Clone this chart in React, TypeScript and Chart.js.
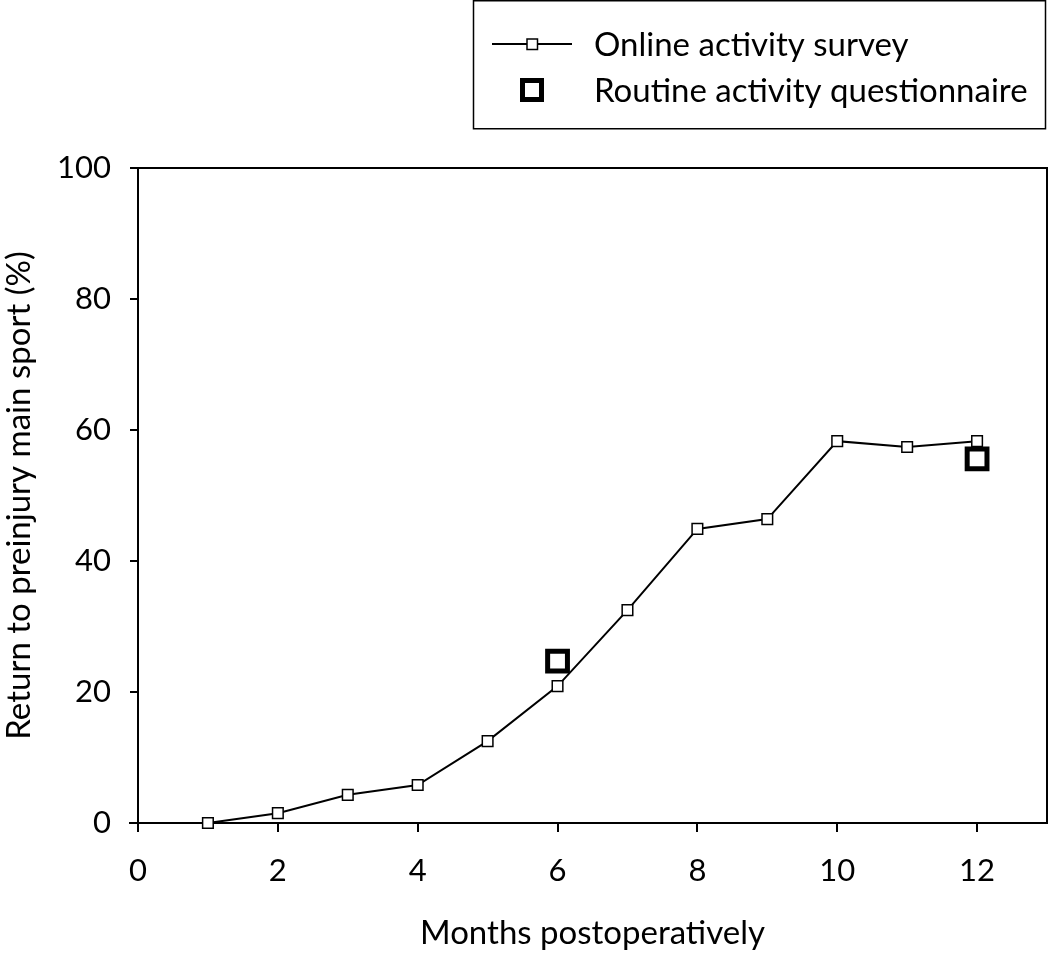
import React, { useEffect, useRef } from "react";
import { Chart, registerables } from "chart.js";

Chart.register(...registerables);

const months = [1, 2, 3, 4, 5, 6, 7, 8, 9, 10, 11, 12];
const onlineSurvey = [0, 1.5, 4.3, 5.8, 12.5, 20.9, 32.5, 44.9, 46.4, 58.3, 57.4, 58.3];
const routineMonths = [6, 12];
const routineQuestionnaire = [24.7, 55.6];
const xTicks = [0, 2, 4, 6, 8, 10, 12];
const yTicks = [0, 20, 40, 60, 80, 100];
const seriesNames = ["Online activity survey", "Routine activity questionnaire"];
const xTitle = "Months postoperatively";
const yTitle = "Return to preinjury main sport (%)";

const FONT = "Lato, 'Open Sans', sans-serif";

const framePlugin = {
  id: "frame",
  beforeDatasetsDraw(chart: any) {
    const { ctx, chartArea } = chart;
    ctx.save();
    ctx.strokeStyle = "#000";
    ctx.lineWidth = 2;
    ctx.beginPath();
    ctx.moveTo(chartArea.left, chartArea.top);
    ctx.lineTo(chartArea.right, chartArea.top);
    ctx.lineTo(chartArea.right, chartArea.bottom);
    ctx.stroke();
    ctx.beginPath();
    ctx.moveTo(chartArea.left - 9, chartArea.bottom);
    ctx.lineTo(chartArea.left, chartArea.bottom);
    ctx.stroke();
    ctx.restore();
  },
  afterDraw(chart: any) {
    const { ctx } = chart;
    ctx.save();
    ctx.strokeStyle = "#000";
    // legend box
    ctx.lineWidth = 1.5;
    ctx.strokeRect(473.5, 0.75, 572, 128);
    // line sample
    ctx.lineWidth = 2;
    ctx.beginPath();
    ctx.moveTo(492, 44);
    ctx.lineTo(572, 44);
    ctx.stroke();
    ctx.fillStyle = "#fff";
    ctx.lineWidth = 1.5;
    ctx.fillRect(527, 39, 10.5, 10.5);
    ctx.strokeRect(527, 39, 10.5, 10.5);
    ctx.lineWidth = 5;
    ctx.strokeRect(522.5, 80.5, 19, 19);
    ctx.fillStyle = "#000";
    ctx.font = `33px ${FONT}`;
    ctx.textBaseline = "middle";
    ctx.textAlign = "left";
    ctx.fillText(seriesNames[0], 594, 45);
    ctx.fillText(seriesNames[1], 594, 91);
    ctx.restore();
  },
};

export default function App() {
  const ref = useRef<HTMLCanvasElement>(null);
  useEffect(() => {
    const chart = new Chart(ref.current!, {
      type: "scatter",
      data: {
        datasets: [
          {
            label: seriesNames[1],
            data: routineMonths.map((m, i) => ({ x: m, y: routineQuestionnaire[i] })),
            showLine: false,
            clip: false,
            pointStyle: "rect",
            pointRadius: 14,
            pointBorderWidth: 5,
            borderColor: "#000",
            backgroundColor: "#fff",
            order: 2,
          },
          {
            label: seriesNames[0],
            data: months.map((m, i) => ({ x: m, y: onlineSurvey[i] })),
            showLine: true,
            clip: false,
            borderColor: "#000",
            borderWidth: 2,
            pointStyle: "rect",
            pointRadius: 7.5,
            pointBorderWidth: 1.5,
            pointBackgroundColor: "#fff",
            pointBorderColor: "#000",
            backgroundColor: "#fff",
            order: 1,
          },
        ],
      },
      options: {
        responsive: false,
        animation: false,
        layout: { autoPadding: false, padding: { left: 0, right: 3, top: 168, bottom: 0 } },
        plugins: { legend: { display: false }, tooltip: { enabled: false } },
        scales: {
          x: {
            type: "linear",
            min: 0,
            max: 13,
            afterBuildTicks: (s: any) => {
              s.ticks = xTicks.map((v) => ({ value: v }));
            },
            afterFit: (s: any) => {
              s.height = 135;
              s.paddingRight = 0;
              s.paddingLeft = 0;
            },
            border: { color: "#000", width: 2 },
            grid: { drawOnChartArea: false, color: "#000", lineWidth: 2, tickLength: 9 },
            ticks: { color: "#000", font: { family: FONT, size: 31 }, padding: 20, maxRotation: 0 },
            title: { display: true, text: xTitle, color: "#000", font: { family: FONT, size: 33 }, padding: { top: 0, bottom: 5 } },
          },
          y: {
            min: 0,
            max: 100,
            afterBuildTicks: (s: any) => {
              s.ticks = yTicks.map((v) => ({ value: v }));
            },
            afterFit: (s: any) => {
              s.width = 138;
              s.paddingTop = 0;
              s.paddingBottom = 0;
            },
            border: { color: "#000", width: 2 },
            grid: { drawOnChartArea: false, color: "#000", lineWidth: 2, tickLength: 8 },
            ticks: { color: "#000", font: { family: FONT, size: 31 }, padding: 19 },
            title: { display: true, text: yTitle, color: "#000", font: { family: FONT, size: 33 }, padding: { top: 0, bottom: 0 } },
          },
        },
      },
      plugins: [framePlugin],
    });
    return () => chart.destroy();
  }, []);
  return (
    <div style={{ position: "fixed", left: 0, top: 0, width: 1050, height: 958, background: "#fff" }}>
      <canvas ref={ref} width={1050} height={958} style={{ width: 1050, height: 958 }} />
    </div>
  );
}
